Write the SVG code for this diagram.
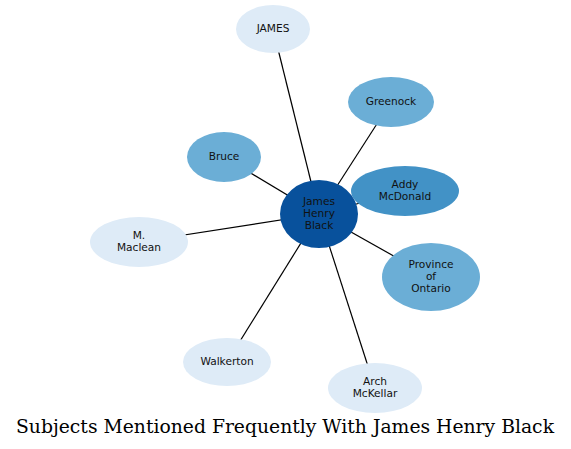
<svg xmlns="http://www.w3.org/2000/svg" width="571" height="449" viewBox="0 0 571 449">
<style>
.n text{font-family:"DejaVu Sans",sans-serif;font-size:10.6px;fill:#111;text-anchor:middle}
.e line{stroke:#000;stroke-width:1.2}
.l1{fill:#deebf7}.l2{fill:#6baed6}.l3{fill:#4292c6}.l4{fill:#08519c}
.t{font-family:"DejaVu Serif",serif;font-size:18.5px;fill:#000;text-anchor:middle}
</style>
<rect width="571" height="449" fill="#fff"/>
<g id="edges" class="e">
<line x1="319" y1="214" x2="273" y2="29"/>
<line x1="319" y1="214" x2="391" y2="102"/>
<line x1="319" y1="214" x2="224" y2="157"/>
<line x1="319" y1="214" x2="405" y2="191"/>
<line x1="319" y1="214" x2="139" y2="242"/>
<line x1="319" y1="214" x2="431" y2="277"/>
<line x1="319" y1="214" x2="227" y2="362"/>
<line x1="319" y1="214" x2="375" y2="388"/>
</g>
<g id="james" class="n"><ellipse class="l1" cx="273" cy="29" rx="37" ry="24"/><text x="273" y="32">JAMES</text></g>
<g id="greenock" class="n"><ellipse class="l2" cx="391" cy="102" rx="43" ry="25"/><text x="391" y="105">Greenock</text></g>
<g id="bruce" class="n"><ellipse class="l2" cx="224" cy="157" rx="37" ry="25"/><text x="224" y="160">Bruce</text></g>
<g id="addy" class="n"><ellipse class="l3" cx="405" cy="191" rx="54" ry="25"/><text x="405" y="188">Addy</text><text x="405" y="200">McDonald</text></g>
<g id="center" class="n"><ellipse class="l4" cx="319" cy="214" rx="39" ry="34"/><text x="319" y="205">James</text><text x="319" y="217">Henry</text><text x="319" y="229">Black</text></g>
<g id="maclean" class="n"><ellipse class="l1" cx="139" cy="242" rx="49" ry="25"/><text x="139" y="239">M.</text><text x="139" y="251">Maclean</text></g>
<g id="ontario" class="n"><ellipse class="l2" cx="431" cy="277" rx="49" ry="34"/><text x="431" y="268">Province</text><text x="431" y="280">of</text><text x="431" y="292">Ontario</text></g>
<g id="walkerton" class="n"><ellipse class="l1" cx="227" cy="362" rx="44" ry="24"/><text x="227" y="365">Walkerton</text></g>
<g id="arch" class="n"><ellipse class="l1" cx="375" cy="388" rx="47" ry="25"/><text x="375" y="385">Arch</text><text x="375" y="397">McKellar</text></g>
<text class="t" x="285" y="433" textLength="538" lengthAdjust="spacingAndGlyphs">Subjects Mentioned Frequently With James Henry Black</text>
</svg>
